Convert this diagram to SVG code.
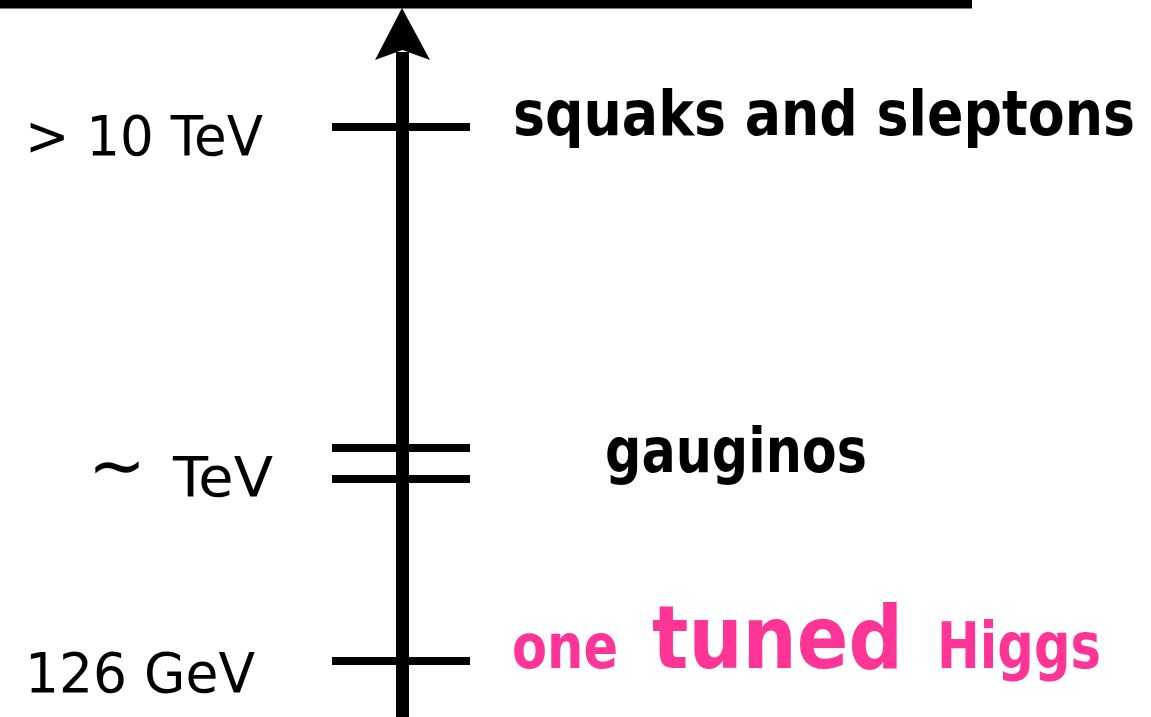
<svg xmlns="http://www.w3.org/2000/svg" width="1151" height="717" viewBox="0 0 1151 717">
  <style>
    .lbl { font-family: "DejaVu Sans", "Liberation Sans", sans-serif; fill: #000; }
    .left { font-size: 56px; font-weight: normal; }
    .right { font-size: 62px; font-weight: bold; }
    .pink { fill: #ff3497; font-weight: bold; font-family: "DejaVu Sans", "Liberation Sans", sans-serif; }
    .tick { stroke: #000; stroke-width: 8; fill: none; }
  </style>
  <rect x="0" y="0" width="1151" height="717" fill="#ffffff"/>
  <g id="top-bar">
    <rect x="0" y="0" width="972" height="8.5" fill="#000"/>
  </g>
  <g id="connectors">
    <line x1="402.5" y1="717" x2="402.5" y2="52" stroke="#000" stroke-width="13"/>
    <polygon points="402,8 430,60 402.5,50 375,60" fill="#000"/>
  </g>
  <g id="node-squarks">
    <line class="tick" x1="332" y1="127" x2="470" y2="127"/>
    <text class="lbl left" x="25" y="155" textLength="238" lengthAdjust="spacingAndGlyphs">&gt; 10 TeV</text>
    <text class="lbl right" x="513" y="135" textLength="622" lengthAdjust="spacingAndGlyphs">squaks and sleptons</text>
  </g>
  <g id="node-gauginos">
    <line class="tick" x1="332" y1="448" x2="470" y2="448"/>
    <line class="tick" x1="332" y1="479" x2="470" y2="479"/>
    <text class="lbl" x="88" y="490" font-size="72" textLength="58" lengthAdjust="spacingAndGlyphs">∼</text>
    <text class="lbl left" x="173" y="496" textLength="100" lengthAdjust="spacingAndGlyphs">TeV</text>
    <text class="lbl right" x="605" y="472" textLength="262" lengthAdjust="spacingAndGlyphs">gauginos</text>
  </g>
  <g id="node-higgs">
    <line class="tick" x1="332" y1="661" x2="470" y2="661"/>
    <text class="lbl left" x="25" y="692" textLength="230" lengthAdjust="spacingAndGlyphs">126 GeV</text>
    <text class="pink" x="512" y="668" font-size="62" textLength="106" lengthAdjust="spacingAndGlyphs">one</text>
    <text class="pink" x="652" y="668" font-size="88" textLength="251" lengthAdjust="spacingAndGlyphs">tuned</text>
    <text class="pink" x="937" y="668" font-size="64" textLength="164" lengthAdjust="spacingAndGlyphs">Higgs</text>
  </g>
</svg>
